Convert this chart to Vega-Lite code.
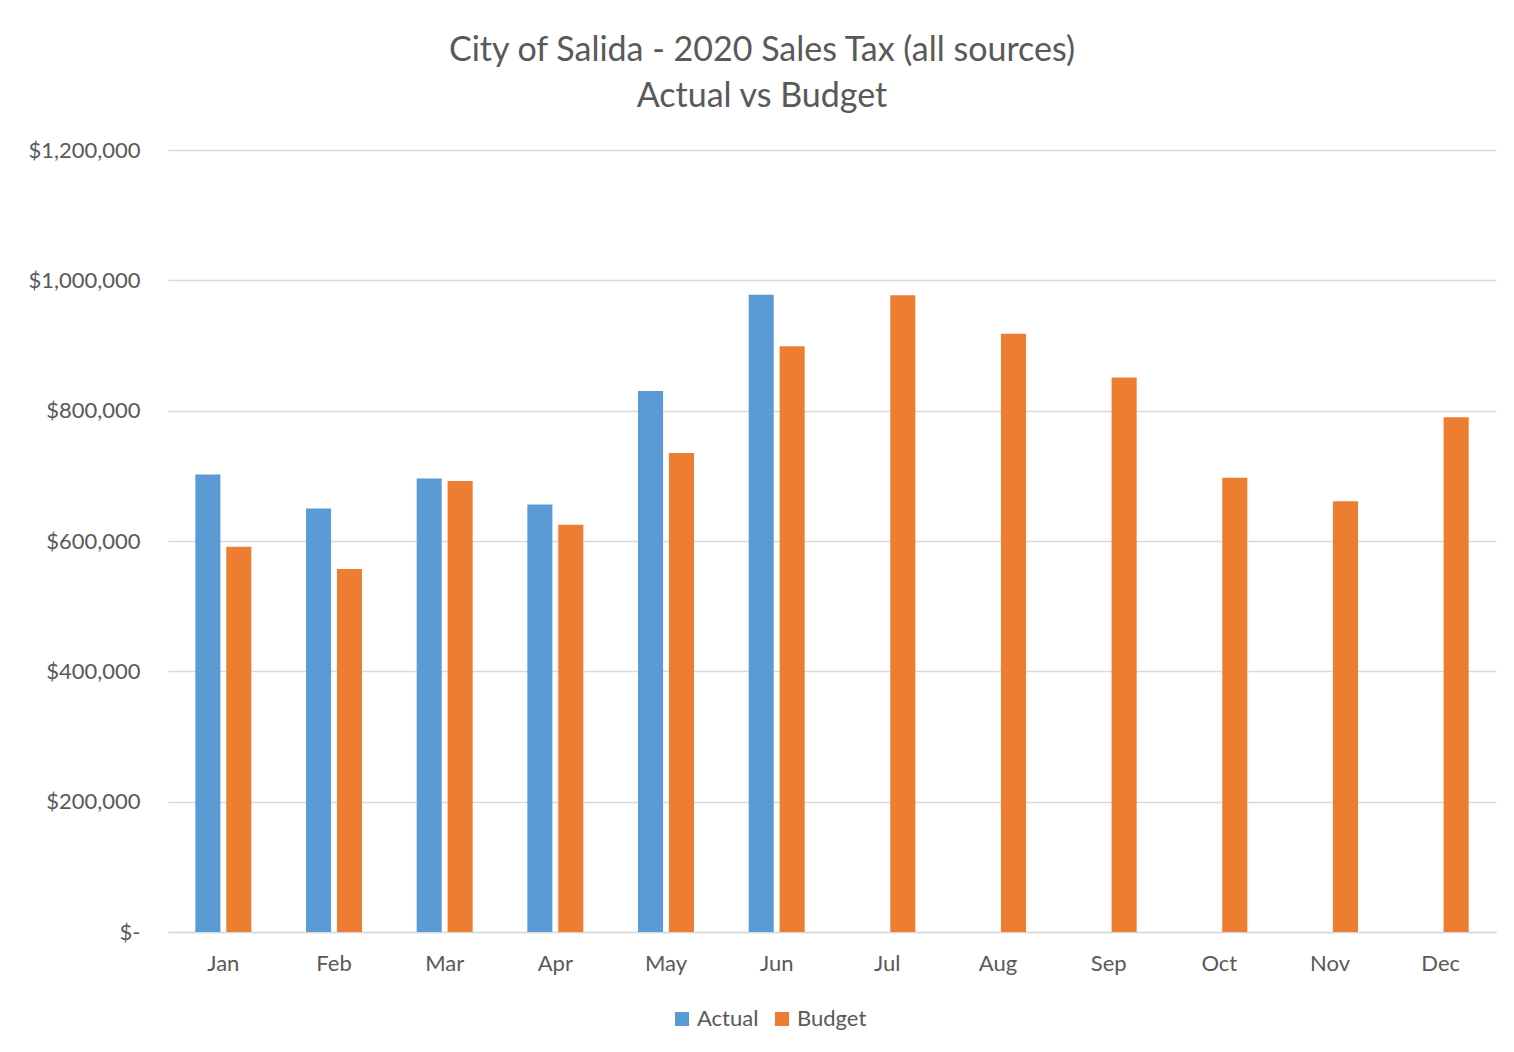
{
  "$schema": "https://vega.github.io/schema/vega-lite/v6.json",
  "width": 1328,
  "height": 782,
  "autosize": {"type": "none"},
  "padding": {"left": 168, "top": 150, "right": 18, "bottom": 120},
  "background": "white",
  "title": {
    "text": ["City of Salida - 2020 Sales Tax (all sources)", "Actual vs Budget"],
    "anchor": "middle",
    "frame": "bounds",
    "font": "Lato",
    "fontSize": 34,
    "fontWeight": "normal",
    "color": "#595959",
    "lineHeight": 46,
    "offset": 25
  },
  "data": {
    "values": [
      {"month": "Jan", "series": "Actual", "value": 702000},
      {"month": "Jan", "series": "Budget", "value": 591000},
      {"month": "Feb", "series": "Actual", "value": 650000},
      {"month": "Feb", "series": "Budget", "value": 557000},
      {"month": "Mar", "series": "Actual", "value": 696000},
      {"month": "Mar", "series": "Budget", "value": 692000},
      {"month": "Apr", "series": "Actual", "value": 656000},
      {"month": "Apr", "series": "Budget", "value": 625000},
      {"month": "May", "series": "Actual", "value": 830000},
      {"month": "May", "series": "Budget", "value": 735000},
      {"month": "Jun", "series": "Actual", "value": 978000},
      {"month": "Jun", "series": "Budget", "value": 899000},
      {"month": "Jul", "series": "Budget", "value": 977000},
      {"month": "Aug", "series": "Budget", "value": 918000},
      {"month": "Sep", "series": "Budget", "value": 851000},
      {"month": "Oct", "series": "Budget", "value": 697000},
      {"month": "Nov", "series": "Budget", "value": 661000},
      {"month": "Dec", "series": "Budget", "value": 790000}
    ]
  },
  "mark": {"type": "bar"},
  "encoding": {
    "x": {
      "field": "month",
      "type": "nominal",
      "sort": ["Jan", "Feb", "Mar", "Apr", "May", "Jun", "Jul", "Aug", "Sep", "Oct", "Nov", "Dec"],
      "scale": {"paddingInner": 0.494, "paddingOuter": 0.247},
      "axis": {
        "title": null,
        "labelAngle": 0,
        "labelFont": "Lato",
        "labelFontSize": 22,
        "labelColor": "#595959",
        "labelPadding": 21,
        "ticks": false,
        "domain": true,
        "domainColor": "#d9d9d9",
        "domainWidth": 1.5,
        "grid": false
      }
    },
    "xOffset": {
      "field": "series",
      "type": "nominal",
      "scale": {"domain": ["Actual", "Budget"], "paddingInner": 0.19, "paddingOuter": 0}
    },
    "y": {
      "field": "value",
      "type": "quantitative",
      "scale": {"domain": [0, 1200000], "nice": false},
      "axis": {
        "title": null,
        "values": [0, 200000, 400000, 600000, 800000, 1000000, 1200000],
        "labelExpr": "datum.value == 0 ? '$-' : '$' + format(datum.value, ',')",
        "labelFont": "Lato",
        "labelFontSize": 22,
        "labelColor": "#595959",
        "labelPadding": 28,
        "ticks": false,
        "domain": false,
        "grid": true,
        "gridColor": "#d9d9d9",
        "gridWidth": 1.5,
        "encode": {
          "labels": {
            "update": {
              "dx": {"signal": "datum.value == 0 ? -12 : 0"}
            }
          }
        }
      }
    },
    "color": {
      "field": "series",
      "type": "nominal",
      "scale": {"domain": ["Actual", "Budget"], "range": ["#5B9BD5", "#ED7D31"]},
      "legend": {
        "title": null,
        "orient": "none",
        "direction": "horizontal",
        "legendX": 503,
        "legendY": 858,
        "symbolType": "square",
        "symbolSize": 196,
        "symbolStrokeWidth": 0,
        "labelFont": "Lato",
        "labelFontSize": 22,
        "labelColor": "#595959",
        "labelOffset": 4,
        "columnPadding": 12
      }
    }
  },
  "config": {
    "view": {"stroke": null}
  }
}
